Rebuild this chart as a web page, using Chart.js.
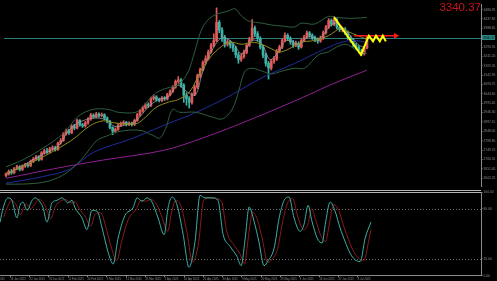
<!DOCTYPE html>
<html>
<head>
<meta charset="utf-8">
<title>XAUUSD Daily</title>
<script src="https://cdn.jsdelivr.net/npm/chart.js@4.4.1/dist/chart.umd.min.js"></script>
<style>
  html, body { margin: 0; padding: 0; background: #000; }
  #wrap { position: relative; width: 497px; height: 281px; overflow: hidden; background: #000; }
  #priceChart { position: absolute; left: 0; top: 0; }
  #oscChart { position: absolute; left: 0; top: 190px; }
  #bigPrice { position: absolute; right: 16px; top: 1px; color: #c8141e; font: 11.5px 'Liberation Sans', Arial, sans-serif; }
</style>
</head>
<body>
<div id="wrap">
  <canvas id="priceChart" width="497" height="190"></canvas>
  <canvas id="oscChart" width="497" height="91"></canvas>
  <div id="bigPrice">3340.37</div>
</div>
<script>
// ---- data ----
const currentPrice = 3340.37;

// daily candles, bar index 0..132
const opens = [
  2615, 2624, 2638, 2630, 2651, 2662, 2648, 2665, 2672, 2668,
  2690, 2702, 2714, 2700, 2735, 2745, 2740, 2756, 2762, 2752,
  2786, 2800, 2835, 2852, 2840, 2875, 2865, 2905, 2882, 2877,
  2892, 2912, 2933, 2925, 2938, 2930, 2935, 2918, 2900, 2868,
  2848, 2858, 2880, 2888, 2895, 2885, 2890, 2884, 2905, 2935,
  2955, 2972, 2988, 2982, 3020, 3028, 3015, 3010, 3022, 3018,
  3040, 3058, 3080, 3110, 3118, 3090, 3038, 3020, 3000, 3042,
  3080, 3140, 3172, 3210, 3230, 3265, 3300, 3325, 3420, 3380,
  3340, 3305, 3318, 3300, 3285, 3250, 3225, 3240, 3262, 3300,
  3330, 3390, 3360, 3335, 3290, 3248, 3205, 3180, 3215, 3228,
  3268, 3290, 3325, 3352, 3335, 3318, 3300, 3310, 3290, 3325,
  3342, 3365, 3352, 3340, 3330, 3322, 3338, 3365, 3395, 3430,
  3410, 3435, 3395, 3382, 3385, 3368, 3340, 3328, 3300, 3290,
  3272, 3255, 3285
];
const highs = [
  2630, 2645, 2648, 2658, 2670, 2668, 2672, 2680, 2682, 2698,
  2710, 2722, 2720, 2742, 2755, 2758, 2764, 2772, 2770, 2792,
  2810, 2842, 2860, 2858, 2882, 2885, 2912, 2910, 2890, 2900,
  2920, 2942, 2940, 2948, 2945, 2944, 2940, 2924, 2905, 2872,
  2866, 2888, 2896, 2904, 2900, 2898, 2896, 2912, 2942, 2962,
  2980, 2996, 2998, 3028, 3038, 3035, 3022, 3030, 3030, 3048,
  3066, 3088, 3118, 3135, 3125, 3098, 3050, 3030, 3050, 3090,
  3148, 3180, 3218, 3245, 3275, 3310, 3360, 3496, 3430, 3392,
  3352, 3330, 3325, 3310, 3295, 3262, 3252, 3275, 3310, 3342,
  3435, 3400, 3372, 3345, 3300, 3258, 3215, 3225, 3240, 3278,
  3300, 3335, 3365, 3360, 3345, 3325, 3322, 3318, 3335, 3352,
  3375, 3372, 3360, 3348, 3338, 3348, 3375, 3405, 3440, 3438,
  3452, 3440, 3402, 3395, 3392, 3375, 3350, 3335, 3310, 3298,
  3280, 3292, 3348
];
const lows = [
  2608, 2618, 2622, 2625, 2645, 2640, 2642, 2658, 2660, 2662,
  2684, 2696, 2692, 2696, 2728, 2732, 2734, 2748, 2744, 2748,
  2780, 2795, 2828, 2832, 2835, 2856, 2860, 2875, 2868, 2870,
  2886, 2906, 2916, 2918, 2922, 2924, 2910, 2892, 2860, 2830,
  2840, 2852, 2874, 2880, 2876, 2878, 2876, 2878, 2900, 2928,
  2948, 2965, 2972, 2978, 3012, 3006, 3002, 3004, 3010, 3012,
  3034, 3052, 3074, 3100, 3080, 3000, 2985, 2970, 2990, 3035,
  3072, 3130, 3165, 3200, 3222, 3258, 3292, 3318, 3365, 3320,
  3290, 3295, 3285, 3268, 3235, 3205, 3215, 3232, 3255, 3292,
  3322, 3345, 3322, 3280, 3235, 3190, 3122, 3170, 3205, 3220,
  3260, 3282, 3318, 3325, 3305, 3288, 3292, 3278, 3285, 3318,
  3335, 3342, 3330, 3318, 3310, 3315, 3330, 3358, 3388, 3400,
  3402, 3385, 3372, 3370, 3355, 3330, 3315, 3290, 3278, 3260,
  3245, 3248, 3280
];
const closes = [
  2624, 2638, 2630, 2651, 2662, 2648, 2665, 2672, 2668, 2690,
  2702, 2714, 2700, 2735, 2745, 2740, 2756, 2762, 2752, 2786,
  2800, 2835, 2852, 2840, 2875, 2865, 2905, 2882, 2877, 2892,
  2912, 2933, 2925, 2938, 2930, 2935, 2918, 2900, 2868, 2848,
  2858, 2880, 2888, 2895, 2885, 2890, 2884, 2905, 2935, 2955,
  2972, 2988, 2982, 3020, 3028, 3015, 3010, 3022, 3018, 3040,
  3058, 3080, 3110, 3118, 3090, 3038, 3020, 3000, 3042, 3080,
  3140, 3172, 3210, 3230, 3265, 3300, 3325, 3420, 3380, 3340,
  3305, 3318, 3300, 3285, 3250, 3225, 3240, 3262, 3300, 3330,
  3390, 3360, 3335, 3290, 3248, 3205, 3180, 3215, 3228, 3268,
  3290, 3325, 3352, 3335, 3318, 3300, 3310, 3290, 3325, 3342,
  3365, 3352, 3340, 3330, 3322, 3338, 3365, 3395, 3430, 3410,
  3435, 3395, 3382, 3385, 3368, 3340, 3328, 3300, 3290, 3272,
  3255, 3285, 3340.37
];

// indicator lines, [bar index, price]
const upperBand = [[0,2661],[6.5,2701],[13.8,2762],[21,2837],[26.5,2928],[31.9,2963],[37.4,2963],[41,2948],[47.5,2948],[50,2978],[54.8,3049],[59.8,3079],[62.7,3089],[66.4,3154],[69,3265],[71.8,3391],[75.4,3451],[81.6,3481],[83.8,3491],[86.3,3451],[88.9,3426],[93.6,3416],[97.2,3406],[100.8,3401],[105.5,3396],[108.1,3416],[112.8,3411],[117.9,3451],[120.8,3446],[126.2,3441],[132,3446]];
const lowerBand = [[0,2571],[6.5,2571],[13.8,2581],[19.2,2606],[23.6,2646],[28.3,2712],[33,2797],[36.6,2822],[41.7,2848],[49,2853],[53.7,2827],[56.2,2812],[58.4,2863],[60.9,2963],[63.5,2948],[69.3,2948],[75.4,2923],[79.1,2913],[82.7,2963],[85.2,3064],[87.4,3164],[90,3179],[93.6,3164],[97.2,3149],[100.8,3164],[105.5,3179],[109.2,3179],[114.3,3250],[117.9,3265],[120.8,3290],[124.4,3305],[128,3275],[132,3255]];
const oliveMa = [[0,2626],[11.2,2697],[23.6,2797],[30.8,2878],[35.5,2903],[39.2,2893],[47.5,2888],[51.1,2923],[54.8,2973],[59.8,3003],[62.7,3013],[67.1,3054],[71.8,3179],[76.5,3265],[81.6,3315],[86.3,3305],[90,3315],[93.6,3305],[97.2,3280],[100.8,3265],[108.1,3315],[112.8,3325],[117.9,3350],[122.6,3391],[124.4,3375],[128.8,3350],[132,3330]];
const fastMa = [[0,2621],[6.5,2671],[12.7,2722],[19.2,2772],[22.9,2853],[26.5,2893],[31.9,2918],[36.6,2908],[39.9,2873],[43.9,2883],[47.5,2903],[51.9,2973],[55.5,3013],[59.8,3034],[62.7,3089],[66.4,3054],[69.3,3039],[71.8,3154],[75.4,3275],[79.1,3340],[82.7,3315],[86.3,3255],[90,3325],[93.6,3305],[96.5,3225],[99.7,3265],[102.6,3325],[107,3305],[110.6,3345],[114.6,3335],[118.2,3396],[120.8,3416],[124.4,3375],[128,3315],[130.6,3290],[132,3305]];
const blueMa = [[0,2576],[6.5,2591],[13.8,2611],[23.6,2651],[31.9,2737],[46.4,2812],[60.9,2898],[66.4,2928],[79.1,3013],[93.6,3129],[105.5,3204],[119.7,3300],[126.2,3325],[132,3315]];
const purpleMa = [[0,2601],[17.4,2651],[35.5,2697],[57.3,2747],[71.8,2812],[90,2913],[108.1,3023],[119,3094],[132,3169]];

// hand drawn projection and target arrow
const zigzag = [[120,3446],[129.8,3250],[132.7,3350],[134.2,3320],[135.3,3350],[136.7,3320],[137.8,3350],[138.9,3320]];
const targetArrow = [[127.3,3350],[142.5,3350]];

// stochastic panel, [bar index, value]
const stochMain = [[-0.7,64],[0.4,81],[2.2,93],[3.6,90],[5.4,69],[6.5,84],[7.6,88],[9.1,78],[10.9,90],[12,93],[13.8,88],[14.9,81],[16.3,64],[18.1,87],[19.9,90],[21.8,93],[22.9,90],[23.9,87],[25.4,90],[26.5,81],[29,69],[30.8,55],[32.6,78],[34.5,77],[36.3,57],[38.4,29],[40.3,14],[42.1,45],[44.6,72],[47.5,81],[49,93],[50.8,89],[52.6,93],[54.4,88],[56.6,69],[58.8,49],[60.2,81],[61.7,94],[63.5,84],[65.7,49],[67.8,10],[70,41],[71.8,96],[73.6,93],[76.5,93],[78.3,90],[80.2,49],[82.7,35],[85.2,23],[86.7,12],[88.2,45],[89.6,82],[91.4,65],[93.2,40],[95,12],[96.5,18],[98.7,33],[100.5,69],[102.3,90],[104.1,94],[105.9,69],[108.1,53],[109.5,61],[111,84],[112.4,65],[114.3,45],[116.1,39],[117.2,61],[119,88],[120.8,77],[122.6,57],[124.4,41],[126.2,27],[128,19],[129.9,17],[131.7,45],[133.8,64]];
const stochSignal = [[0.6,70],[1.7,80],[3.5,90],[4.9,86],[6.7,73],[7.8,81],[8.9,86],[10.4,80],[12.2,87],[13.3,91],[15.1,87],[16.2,79],[17.6,68],[19.4,83],[21.2,89],[23.1,91],[24.2,89],[25.2,87],[26.7,88],[27.8,81],[30.3,70],[32.1,59],[33.9,74],[35.8,75],[37.6,59],[39.7,33],[41.6,18],[43.4,41],[45.9,68],[48.8,80],[50.3,90],[52.1,89],[53.9,91],[55.7,87],[57.9,71],[60.1,53],[61.5,76],[63,90],[64.8,84],[67,53],[69.1,16],[71.3,40],[73.1,90],[74.9,93],[77.8,92],[79.6,89],[81.5,53],[84,37],[86.5,25],[88,14],[89.1,40],[90.9,76],[92.7,66],[94.5,42],[96.3,16],[97.8,19],[100,33],[101.8,65],[103.6,87],[105.4,92],[107.2,71],[109.4,55],[110.8,60],[112.3,80],[113.7,67],[115.6,48],[117.4,41],[118.5,58],[120.3,85],[122.1,78],[123.9,59],[125.7,43],[127.5,29],[129.3,21],[131.2,18],[133,42],[133.8,55]];
const stochLevels = [80, 20];

// axis ticks
const priceTicks = [3486.95, 3437.80, 3388.65, 3339.50, 3290.35, 3241.20, 3192.05, 3142.90, 3093.75, 3044.60, 2995.45, 2946.30, 2897.15, 2848.00, 2798.85, 2749.70, 2700.55, 2651.40, 2602.25];
const stochTicks = [0, 20, 80, 100];
const dateTickIdx = [-4, 3, 10, 17, 24, 31, 38, 45, 52, 59, 66, 73, 80, 87, 94, 101, 108, 115, 122, 129];
const dateTickLabels = ['2 Jan 2025', '13 Jan 2025', '22 Jan 2025', '31 Jan 2025', '11 Feb 2025', '20 Feb 2025', '3 Mar 2025', '12 Mar 2025', '21 Mar 2025', '1 Apr 2025', '10 Apr 2025', '21 Apr 2025', '30 Apr 2025', '9 May 2025', '20 May 2025', '29 May 2025', '9 Jun 2025', '18 Jun 2025', '27 Jun 2025', '8 Jul 2025'];

// ---- view settings ----
const X_MIN = -0.73, X_MAX = 173.7;
const Y_MIN = 2560.8, Y_MAX = 3516.4;
const UP = '#e05a5a', DOWN = '#3db3a8';
const FONT = "'Liberation Sans', Arial, sans-serif";
const AXIS_GRAY = '#8a8a8a';
const LABEL_GRAY = '#8c8c8c';

const toPoints = (pairs) => pairs.map(([x, y]) => ({ x, y }));
const candleColor = (i) => closes[i] >= opens[i] ? UP : DOWN;

function lineSet(pairs, color, width, extra) {
    return Object.assign({
        type: 'line',
        data: toPoints(pairs),
        borderColor: color,
        borderWidth: width,
        pointRadius: 0,
        fill: false,
        tension: 0.35,
        order: 5
    }, extra || {});
}

// current price line on the price panel, box on its axis
const priceDecor = {
    id: 'priceDecor',
    beforeDatasetsDraw(chart) {
        const { ctx, chartArea, scales: { y } } = chart;
        const py = Math.round(y.getPixelForValue(currentPrice)) + 0.5;
        ctx.save();
        ctx.strokeStyle = '#2a7f7c';
        ctx.lineWidth = 1;
        ctx.beginPath();
        ctx.moveTo(chartArea.left, py);
        ctx.lineTo(chartArea.right, py);
        ctx.stroke();
        ctx.restore();
    },
    afterDraw(chart) {
        const { ctx, chartArea, scales: { y } } = chart;
        const py = y.getPixelForValue(currentPrice);
        ctx.save();
        ctx.fillStyle = '#2a8a86';
        ctx.fillRect(chartArea.right + 1, py - 2.5, 13, 5);
        ctx.fillStyle = '#000';
        ctx.font = '3.3px ' + FONT;
        ctx.textBaseline = 'middle';
        ctx.fillText(currentPrice.toFixed(2), chartArea.right + 2, py + 0.3);
        ctx.restore();
    }
};

// dotted levels and the panel separator on the oscillator
const oscDecor = {
    id: 'oscDecor',
    beforeDatasetsDraw(chart) {
        const { ctx, chartArea, scales: { y } } = chart;
        ctx.save();
        ctx.lineWidth = 1;
        ctx.strokeStyle = '#6e6e6e';
        ctx.setLineDash([1, 2]);
        stochLevels.forEach((v) => {
            const py = Math.round(y.getPixelForValue(v)) + 0.5;
            ctx.beginPath();
            ctx.moveTo(chartArea.left, py);
            ctx.lineTo(chartArea.right, py);
            ctx.stroke();
        });
        ctx.setLineDash([]);
        ctx.strokeStyle = '#b4b4b4';
        [0.5, 2.5].forEach((py) => {
            ctx.beginPath();
            ctx.moveTo(0, py);
            ctx.lineTo(chartArea.right, py);
            ctx.stroke();
        });
        ctx.restore();
    }
};

function noPad(scale) {
    scale.paddingTop = 0;
    scale.paddingBottom = 0;
    scale.paddingLeft = 0;
    scale.paddingRight = 0;
}

// price panel
new Chart(document.getElementById('priceChart'), {
    type: 'bar',
    data: {
        datasets: [
            {
                data: lows.map((l, i) => ({ x: i, y: [l, highs[i]] })),
                backgroundColor: (c) => candleColor(c.dataIndex),
                barThickness: 1,
                grouped: false,
                order: 11
            },
            {
                data: opens.map((o, i) => ({ x: i, y: [o, closes[i]] })),
                backgroundColor: (c) => candleColor(c.dataIndex),
                barThickness: 2,
                minBarLength: 1,
                grouped: false,
                order: 10
            },
            lineSet(upperBand, '#2c5f3e', 1),
            lineSet(lowerBand, '#2c5f3e', 1),
            lineSet(purpleMa, '#8e2190', 1),
            lineSet(blueMa, '#1f2c9a', 1),
            lineSet(oliveMa, '#8f8a1f', 1),
            lineSet(fastMa, '#9a9a9a', 0.8),
            lineSet(zigzag, '#ffff00', 2, { tension: 0, order: 1 }),
            lineSet(targetArrow, '#ff1a1a', 1.5, {
                tension: 0, order: 2,
                pointRadius: [0, 3.5],
                pointStyle: 'triangle',
                rotation: 90,
                pointBackgroundColor: '#ff1a1a',
                pointBorderWidth: 0
            })
        ]
    },
    options: {
        responsive: false,
        animation: false,
        devicePixelRatio: 1,
        events: [],
        layout: { padding: 0 },
        plugins: { legend: { display: false }, tooltip: { enabled: false } },
        scales: {
            x: { type: 'linear', min: X_MIN, max: X_MAX, offset: false, display: false },
            y: {
                position: 'right',
                min: Y_MIN,
                max: Y_MAX,
                afterBuildTicks: (scale) => { scale.ticks = priceTicks.map((v) => ({ value: v })); },
                afterFit: (scale) => { scale.width = 16; noPad(scale); },
                ticks: {
                    autoSkip: false,
                    padding: 1,
                    color: LABEL_GRAY,
                    font: { family: FONT, size: 3.3 },
                    callback: (v) => Number(v).toFixed(2)
                },
                grid: { drawOnChartArea: false, tickLength: 1.5, color: AXIS_GRAY },
                border: { display: true, color: AXIS_GRAY }
            }
        }
    },
    plugins: [priceDecor]
});

// stochastic panel
new Chart(document.getElementById('oscChart'), {
    type: 'line',
    data: {
        datasets: [
            lineSet(stochSignal, '#8a1c1c', 1, { cubicInterpolationMode: 'monotone' }),
            lineSet(stochMain, '#3bb0a6', 1, { cubicInterpolationMode: 'monotone', order: 4 })
        ]
    },
    options: {
        responsive: false,
        animation: false,
        devicePixelRatio: 1,
        events: [],
        layout: { padding: { top: 2 } },
        plugins: { legend: { display: false }, tooltip: { enabled: false } },
        scales: {
            x: {
                type: 'linear',
                min: X_MIN,
                max: X_MAX,
                afterBuildTicks: (scale) => { scale.ticks = dateTickIdx.map((v) => ({ value: v })); },
                afterFit: (scale) => { scale.height = 5.3; noPad(scale); },
                ticks: {
                    autoSkip: false,
                    maxRotation: 0,
                    align: 'start',
                    padding: 0.5,
                    color: LABEL_GRAY,
                    font: { family: FONT, size: 2.8 },
                    callback: (v, i) => dateTickLabels[i]
                },
                grid: { drawOnChartArea: false, tickLength: 1.5, color: AXIS_GRAY },
                border: { display: true, color: AXIS_GRAY }
            },
            y: {
                position: 'right',
                min: 0,
                max: 100,
                afterBuildTicks: (scale) => { scale.ticks = stochTicks.map((v) => ({ value: v })); },
                afterFit: (scale) => { scale.width = 16; noPad(scale); },
                ticks: {
                    autoSkip: false,
                    padding: 1,
                    color: LABEL_GRAY,
                    font: { family: FONT, size: 3.3 },
                    callback: (v) => Number(v).toFixed(2)
                },
                grid: { drawOnChartArea: false, tickLength: 1.5, color: AXIS_GRAY },
                border: { display: true, color: AXIS_GRAY }
            }
        }
    },
    plugins: [oscDecor]
});
</script>
</body>
</html>
